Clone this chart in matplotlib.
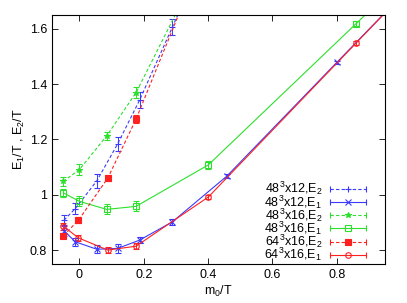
import numpy as np
import matplotlib
matplotlib.use('Agg')
from matplotlib import pyplot as plt
from matplotlib.lines import Line2D
from matplotlib.legend_handler import HandlerBase

plt.rcParams['font.family'] = ['Liberation Sans', 'DejaVu Sans']
plt.rcParams['mathtext.fontset'] = 'custom'
plt.rcParams['mathtext.rm'] = 'Liberation Sans'
plt.rcParams['mathtext.it'] = 'Liberation Sans'

# ----- data (last points of each series lie outside the frame) -----
x_48_12_E2 = [-0.048, -0.013, 0.054, 0.119, 0.187, 0.289, 0.35]
y_48_12_E2 = [0.908, 0.950, 1.050, 1.184, 1.342, 1.606, 1.764]
e_48_12_E2 = [0.02, 0.02, 0.025, 0.025, 0.03, 0.03, 0.03]

x_48_12_E1 = [-0.048, -0.013, 0.054, 0.119, 0.187, 0.289, 0.458, 0.80, 1.0]
y_48_12_E1 = [0.870, 0.830, 0.803, 0.806, 0.836, 0.902, 1.067, 1.478, 1.718]
e_48_12_E1 = [0.02, 0.015, 0.015, 0.015, 0.012, 0.01, 0.008, 0.006, 0.006]

x_48_16_E2 = [-0.05, 0.0, 0.085, 0.176, 0.35]
y_48_16_E2 = [1.048, 1.091, 1.213, 1.369, 1.77]
e_48_16_E2 = [0.015, 0.02, 0.015, 0.02, 0.02]

x_48_16_E1 = [-0.05, 0.0, 0.085, 0.176, 0.401, 0.86, 1.0]
y_48_16_E1 = [1.007, 0.976, 0.947, 0.958, 1.108, 1.618, 1.774]
e_48_16_E1 = [0.015, 0.018, 0.018, 0.018, 0.015, 0.01, 0.01]

x_64_16_E2 = [-0.05, -0.003, 0.088, 0.176, 0.35]
y_64_16_E2 = [0.852, 0.908, 1.060, 1.273, 1.77]
e_64_16_E2 = [0.01, 0.01, 0.01, 0.015, 0.015]

x_64_16_E1 = [-0.05, -0.003, 0.088, 0.176, 0.401, 0.86, 1.0]
y_64_16_E1 = [0.886, 0.844, 0.800, 0.814, 0.992, 1.548, 1.717]
e_64_16_E1 = [0.012, 0.012, 0.01, 0.01, 0.008, 0.008, 0.008]

BLUE  = '#3a3aff'
GREEN = '#2ce02c'
RED   = '#ff2020'

series = [
    (x_48_12_E2, y_48_12_E2, e_48_12_E2, BLUE,  '--', '+', 'none', r'48$^3$x12,E$_2$'),
    (x_48_12_E1, y_48_12_E1, e_48_12_E1, BLUE,  '-',  'x', 'none', r'48$^3$x12,E$_1$'),
    (x_48_16_E2, y_48_16_E2, e_48_16_E2, GREEN, '--', '*', GREEN,  r'48$^3$x16,E$_2$'),
    (x_48_16_E1, y_48_16_E1, e_48_16_E1, GREEN, '-',  's', 'none', r'48$^3$x16,E$_1$'),
    (x_64_16_E2, y_64_16_E2, e_64_16_E2, RED,   '--', 's', RED,    r'64$^3$x16,E$_2$'),
    (x_64_16_E1, y_64_16_E1, e_64_16_E1, RED,   '-',  'o', 'none', r'64$^3$x16,E$_1$'),
]


class HandlerErrKey(HandlerBase):
    ''' gnuplot-like key sample: horizontal bar with end caps and a point in the middle '''
    def create_artists(self, legend, h, xdescent, ydescent, width, height, fontsize, trans):
        y = height / 2.0 - ydescent
        x0, x1 = -xdescent, width - xdescent
        col = h.get_color()
        line = Line2D([x0, x1], [y, y], color=col, lw=h.get_linewidth(), ls=h.get_linestyle())
        if h.get_linestyle() in ('--', 'dashed'):
            line.set_dashes((3, 2))
        caps = Line2D([x0, x1], [y, y], color=col, ls='none', marker='|', ms=5, mew=0.8)
        mark = Line2D([(x0 + x1) / 2.0], [y], color=col, ls='none', marker=h.get_marker(),
                      ms=h.get_markersize(), mfc=h.get_markerfacecolor(), mew=0.8)
        for a in (line, caps, mark):
            a.set_transform(trans)
        return [line, caps, mark]


fig = plt.figure(figsize=(4.07, 3.03), dpi=100)
ax = fig.add_axes([0.128, 0.129, 0.818, 0.822])

handles, labels = [], []
for xs, ys, es, col, ls, mk, mfc, lab in series:
    dash = (3, 2) if ls == '--' else (None, None)
    ax.errorbar(xs, ys, yerr=es, color=col, ls=ls, lw=0.8, marker=mk, ms=4,
                mfc=mfc, mew=0.8, capsize=2, elinewidth=0.7, capthick=0.7,
                dashes=dash)
    handles.append(Line2D([], [], color=col, ls=ls, lw=0.8, marker=mk, ms=4, mfc=mfc))
    labels.append(lab)

ax.set_xlim(-0.085, 0.95)
ax.set_ylim(0.75, 1.65)
ax.set_xticks([0, 0.2, 0.4, 0.6, 0.8])
ax.set_xticklabels(['0', '0.2', '0.4', '0.6', '0.8'])
ax.set_yticks([0.8, 1.0, 1.2, 1.4, 1.6])
ax.set_yticklabels(['0.8', '1', '1.2', '1.4', '1.6'])
ax.tick_params(direction='in', top=True, right=True, labelsize=9, length=4, width=0.6)
for s in ax.spines.values():
    s.set_linewidth(0.8)

ax.set_xlabel(r'm$_0$/T', fontsize=9, labelpad=2)
ax.set_ylabel(r'E$_1$/T , E$_2$/T', fontsize=9, labelpad=2)

leg = ax.legend(handles, labels, loc='lower right', bbox_to_anchor=(0.945, 0.0),
                fontsize=9, frameon=False, markerfirst=False,
                handlelength=2.9, handletextpad=0.6, labelspacing=-0.33,
                borderaxespad=0.0, borderpad=0.05,
                handler_map={Line2D: HandlerErrKey()})
for t in leg.get_texts():
    t.set_ha('right')

fig.savefig('out.png', dpi=100)
